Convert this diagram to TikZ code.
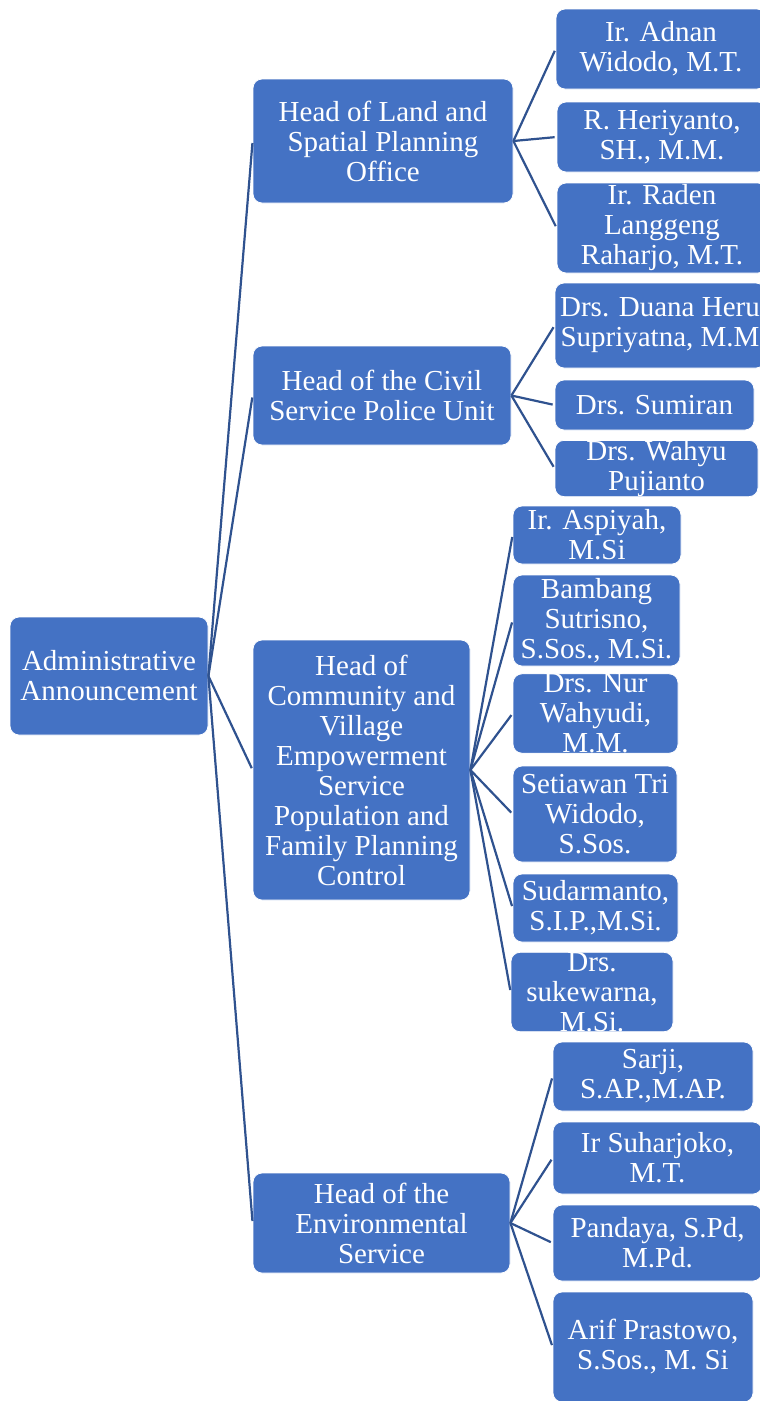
\documentclass[tikz,border=0pt]{standalone}
\usepackage{fontspec}
\setmainfont{Liberation Serif}
\usetikzlibrary{positioning}
\definecolor{boxblue}{RGB}{68,114,196}
\definecolor{lineblue}{RGB}{47,82,143}

\begin{document}
\begin{tikzpicture}[x=1pt, y=-1pt]
    \tikzset{orgbox/.style={draw=white, line width=0.8pt, fill=boxblue,
        rounded corners=9pt, text=white, align=center, inner sep=0pt,
        font=\fontsize{29}{30}\selectfont},
      link/.style={draw=lineblue, line width=2.2pt, shorten >=2pt}}
    \useasboundingbox (0,0) rectangle (760,1401);
    % root and heads
    \node[orgbox, minimum width=198pt, minimum height=118pt] (root) at (109,676) {Administrative\\Announcement};
    \node[orgbox, minimum width=260pt, minimum height=124pt] (land) at (383,141) {Head of Land and\\Spatial Planning\\Office};
    \node[orgbox, minimum width=258pt, minimum height=99pt] (civil) at (382,395.5) {Head of the Civil\\Service Police Unit};
    \node[orgbox, minimum width=217pt, minimum height=260pt] (comm) at (361.5,770) {Head of\\Community and\\Village\\Empowerment\\Service\\Population and\\Family Planning\\Control};
    \node[orgbox, minimum width=257pt, minimum height=100pt] (env) at (381.5,1223) {Head of the\\Environmental\\Service};
    % land office
    \node[orgbox, minimum width=210pt, minimum height=80pt] (adnan) at (661,49) {Ir. Adnan\\Widodo, M.T.};
    \node[orgbox, minimum width=210pt, minimum height=70pt] (heri) at (662,137) {R. Heriyanto,\\SH., M.M.};
    \node[orgbox, minimum width=210pt, minimum height=90pt] (raden) at (662,228) {Ir. Raden\\Langgeng\\Raharjo, M.T.};
    % police unit
    \node[orgbox, minimum width=210pt, minimum height=85pt] (duana) at (660,325.5) {Drs. Duana Heru\\Supriyatna, M.M};
    \node[orgbox, minimum width=199pt, minimum height=50pt] (sumiran) at (654.5,405) {Drs. Sumiran};
    \node[orgbox, minimum width=203pt, minimum height=53pt] (wahyu) at (656.5,468.5) {Drs. Wahyu\\Pujianto};
    % community service
    \node[orgbox, minimum width=168pt, minimum height=58pt] (aspiyah) at (597,535) {Ir. Aspiyah,\\M.Si};
    \node[orgbox, minimum width=167pt, minimum height=91pt] (bambang) at (596.5,620.5) {Bambang\\Sutrisno,\\S.Sos., M.Si.};
    \node[orgbox, minimum width=165pt, minimum height=79pt] (nur) at (595.5,713.5) {Drs. Nur\\Wahyudi,\\M.M.};
    \node[orgbox, minimum width=164pt, minimum height=96pt] (setiawan) at (595,814) {Setiawan Tri\\Widodo,\\S.Sos.};
    \node[orgbox, minimum width=165pt, minimum height=68pt] (sudarmanto) at (595.5,908) {Sudarmanto,\\S.I.P.,M.Si.};
    \node[orgbox, minimum width=162pt, minimum height=78pt] (sukewarna) at (592,992) {Drs.\\sukewarna,\\M.Si.};
    % environmental service
    \node[orgbox, minimum width=200pt, minimum height=69pt] (sarji) at (653,1076.5) {Sarji,\\S.AP.,M.AP.};
    \node[orgbox, minimum width=209pt, minimum height=72pt] (suharjoko) at (657.5,1158) {Ir Suharjoko,\\M.T.};
    \node[orgbox, minimum width=209pt, minimum height=76pt] (pandaya) at (657.5,1243) {Pandaya, S.Pd,\\M.Pd.};
    \node[orgbox, minimum width=200pt, minimum height=110pt] (arif) at (653,1347) {Arif Prastowo,\\S.Sos., M. Si};
    % connectors
    \foreach \h in {land,civil,comm,env}
      \draw[link] (root.east) -- (\h.west);
    \foreach \c in {adnan,heri,raden}
      \draw[link] (land.east) -- (\c.west);
    \foreach \c in {duana,sumiran,wahyu}
      \draw[link] (civil.east) -- (\c.west);
    \foreach \c in {aspiyah,bambang,nur,setiawan,sudarmanto,sukewarna}
      \draw[link] (comm.east) -- (\c.west);
    \foreach \c in {sarji,suharjoko,pandaya,arif}
      \draw[link] (env.east) -- (\c.west);
\end{tikzpicture}
\end{document}
